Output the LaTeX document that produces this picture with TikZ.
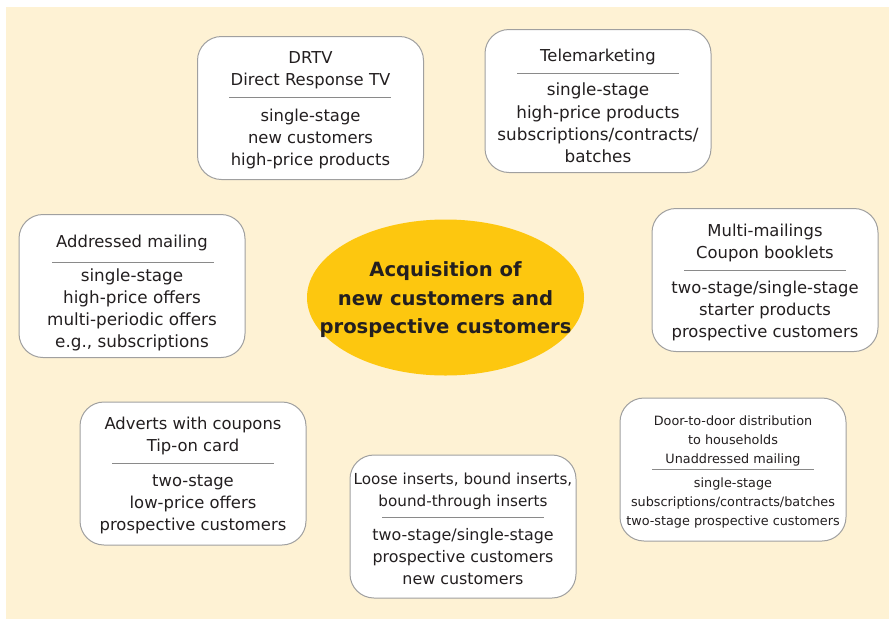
\documentclass[tikz,border=0pt]{standalone}
\usepackage{fontspec}
\usetikzlibrary{shapes.geometric}
\setmainfont{DejaVu Sans}
\definecolor{paper}{HTML}{FEF2D4}
\definecolor{sun}{HTML}{FDC70F}
\definecolor{ink}{HTML}{231F20}
\definecolor{rim}{HTML}{A0A0A0}
\definecolor{rule}{HTML}{8A8A8A}
\begin{document}
\begin{tikzpicture}[x=1pt,y=-1pt,
  card/.style={draw=rim,line width=1pt,fill=white,rounded corners=24pt,
    minimum width=226pt,minimum height=143pt,inner sep=0pt},
  txt/.style={text=ink,align=center,inner sep=0pt,font=\fontsize{16.4}{22}\selectfont},
  wide/.style={txt,font=\fontsize{16.8}{22.2}\selectfont},
  tight/.style={txt,font=\fontsize{15.9}{22}\selectfont},
  small/.style={txt,font=\fontsize{12.8}{19}\selectfont},
  divider/.style={draw=rule,line width=0.8pt}]
\useasboundingbox (0,0) rectangle (889,619);
\fill[paper] (6,7) rectangle (889,619);

% centre ellipse
\node[ellipse,fill=sun,minimum width=277pt,minimum height=156pt,inner sep=0pt] (core) at (445.5,297.5) {};
\node[txt,font=\bfseries\fontsize{19.6}{28.5}\selectfont] (coretxt) at (445.5,300) {Acquisition of\\new customers and\\prospective customers};

% DRTV
\node[card] (drtv) at (310.5,108) {};
\node[txt] (drtvhead) at (310.5,70) {DRTV\\Direct Response TV};
\draw[divider] (229,97) -- (391,97);
\node[txt] (drtvbody) at (310.5,139) {single-stage\\new customers\\high-price products};

% Telemarketing
\node[card] (tele) at (598,101) {};
\node[txt] (telehead) at (598,57) {Telemarketing};
\draw[divider] (517,73) -- (679,73);
\node[wide] (telebody) at (598,123) {single-stage\\high-price products\\subscriptions/contracts/\\batches};

% Addressed mailing
\node[card] (addr) at (132,286) {};
\node[txt] (addrhead) at (132,243) {Addressed mailing};
\draw[divider] (52,262) -- (214,262);
\node[wide] (addrbody) at (132,310) {single-stage\\high-price offers\\multi-periodic offers\\e.g., subscriptions};

% Multi-mailings
\node[card] (multi) at (765,280) {};
\node[txt] (multihead) at (765,243) {Multi-mailings\\Coupon booklets};
\draw[divider] (684,270) -- (846,270);
\node[txt] (multibody) at (765,311) {two-stage/single-stage\\starter products\\prospective customers};

% Adverts with coupons
\node[card] (advert) at (193,473.5) {};
\node[txt] (adverthead) at (193,436) {Adverts with coupons\\Tip-on card};
\draw[divider] (112,463) -- (274,463);
\node[txt] (advertbody) at (193,504.5) {two-stage\\low-price offers\\prospective customers};

% Loose inserts
\node[card] (loose) at (463,526.5) {};
\node[txt,font=\fontsize{15.2}{22}\selectfont] (loosehead) at (463,491) {Loose inserts, bound inserts,\\bound-through inserts};
\draw[divider] (382,517) -- (544,517);
\node[tight] (loosebody) at (463,556.5) {two-stage/single-stage\\prospective customers\\new customers};

% Door-to-door distribution
\node[card] (door) at (733,469.5) {};
\node[small] (doorhead) at (733,441) {Door-to-door distribution\\to households\\Unaddressed mailing};
\draw[divider] (652,469) -- (814,469);
\node[small] (doorbody) at (733,503) {single-stage\\subscriptions/contracts/batches\\two-stage prospective customers};
\end{tikzpicture}
\end{document}
